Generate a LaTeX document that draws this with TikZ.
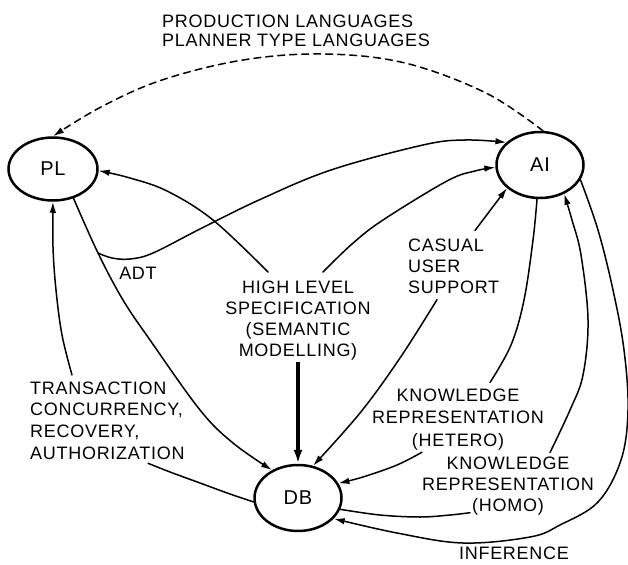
\documentclass[tikz,border=0pt]{standalone}
\usepackage{fontspec}
\setmainfont{Liberation Sans}[LetterSpace=4]
\usetikzlibrary{arrows.meta,shapes.geometric}
\tikzset{
  ell/.style={draw, ellipse, line width=2.5pt, inner sep=0pt, font=\fontsize{20}{24}\selectfont},
  lbl/.style={inner sep=0pt, font=\fontsize{18}{21.5}\selectfont},
  conn/.style={line width=1.5pt, line cap=round},
  arr/.style={conn, -{Latex[length=11pt,width=6.5pt]}},
  dsh/.style={arr, dash pattern=on 7pt off 5pt},
  thick arr/.style={line width=3.3pt, -{Latex[length=14pt,width=9pt]}},
  smoothp/.style={smooth, tension=0.6}
}
\begin{document}
\begin{tikzpicture}[x=1pt,y=-1pt]
\useasboundingbox[fill=white] (0,0) rectangle (628,564);
% main nodes
\node[ell, minimum width=89pt, minimum height=63pt] (PL) at (53,169) {PL};
\node[ell, minimum width=87pt, minimum height=66pt] (AI) at (540,165) {AI};
\node[ell, minimum width=87pt, minimum height=66pt] (DB) at (298,498) {DB};
% labels
\node[lbl, anchor=north west, align=left, font=\fontsize{18}{18.5}\selectfont] (prod) at (162,15) {PRODUCTION LANGUAGES\\PLANNER TYPE LANGUAGES};
\node[lbl] (adt) at (138,273) {ADT};
\node[lbl, anchor=north, align=center, font=\fontsize{18}{21}\selectfont] (hl) at (298,280.5) {HIGH LEVEL\\SPECIFICATION\\(SEMANTIC\\MODELLING)};
\node[lbl, anchor=north west, align=left, font=\fontsize{18}{21}\selectfont] (cas) at (408,238.5) {CASUAL\\USER\\SUPPORT};
\node[lbl, anchor=north west, align=left, font=\fontsize{18}{21.7}\selectfont] (tr) at (30,381.5) {TRANSACTION\\CONCURRENCY,\\RECOVERY,\\AUTHORIZATION};
\node[lbl, anchor=north, align=center, font=\fontsize{18}{22.5}\selectfont] (kh) at (458,388.5) {KNOWLEDGE\\REPRESENTATION\\(HETERO)};
\node[lbl, anchor=north, align=center, font=\fontsize{18}{21}\selectfont] (kho) at (508,456.5) {KNOWLEDGE\\REPRESENTATION\\(HOMO)};
\node[lbl] (inf) at (514,553) {INFERENCE};
\coordinate (adt0) at (98,253);
% dashed AI -> PL
\draw[dsh] plot[smoothp] coordinates {(AI.85) (486,93) (405,63) (324,54) (243,60) (162,80) (101,107) (PL.north)};
% PL -> DB
\draw[arr] plot[smoothp] coordinates {(PL.-55) (adt0) (123,300) (150,340) (200,410) (233,443) (DB.133)};
% ADT branch -> AI
\draw[arr] plot[smoothp] coordinates {(adt0) (112,258) (130,259) (153,253) (200,229) (259,200) (331,170) (423,145) (465,140) (AI.146)};
% high level -> PL
\draw[arr] plot[smoothp] coordinates {([xshift=-30pt,yshift=8.5pt]hl.north) (213,220) (167,191) (130,178) (PL.-2)};
% high level -> AI
\draw[arr] plot[smoothp] coordinates {([xshift=25pt,yshift=8.5pt]hl.north) (352,244) (383,220) (447,181) (475,171) (AI.183)};
% high level -> DB (thick)
\draw[thick arr] ([yshift=-2pt]hl.south) -- (DB.north);
% casual -> AI
\draw[arr] ([xshift=67pt,yshift=8pt]cas.north west) -- (AI.-145);
% support -> DB
\draw[arr] plot[smoothp] coordinates {([xshift=29pt,yshift=-6pt]cas.south west) (400,358) (360,413) (DB.65)};
% AI -> knowledge hetero
\draw[conn] plot[smoothp] coordinates {(AI.-95) (533,240) (524,300) (511,345) ([xshift=32pt,yshift=6pt]kh.north)};
% hetero -> DB
\draw[arr] plot[smoothp] coordinates {([xshift=-36pt,yshift=-2pt]kh.south) (397,465) (363,477) (DB.20)};
% DB -> homo
\draw[conn] plot[smoothp] coordinates {(DB.-15) (380,515) (420,517) (450,515) ([xshift=-38pt,yshift=2.5pt]kho.south)};
% knowledge homo -> AI
\draw[arr] plot[smoothp] coordinates {([xshift=42pt,yshift=4pt]kho.north) (570,410) (583,375) (588,320) (581,255) (572,220) (AI.-50)};
% inference AI -> DB
\draw[arr] plot[smoothp] coordinates {(AI.-20) (598,230) (613,290) (624,350) (628,410) (621,460) (598,502) (560,525) (530,537) (463,543) (397,533) (DB.-30)};
% transaction -> PL
\draw[arr] plot[smoothp] coordinates {([xshift=42pt,yshift=6.5pt]tr.north west) (62,335) (56,290) (53,247) (PL.-90)};
% DB -> authorization
\draw[conn] plot[smoothp] coordinates {(DB.185) (230,494) (200,483) (170,472) ([xshift=118pt,yshift=-3.5pt]tr.south west)};
\end{tikzpicture}
\end{document}
